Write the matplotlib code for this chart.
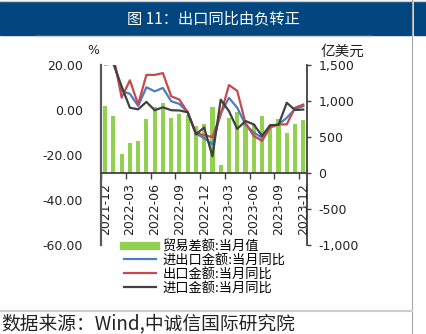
import numpy as np
import matplotlib
matplotlib.use('Agg')
import matplotlib.pyplot as plt
from matplotlib.lines import Line2D
from matplotlib.patches import Rectangle

cjk = ['Noto Sans CJK SC', 'DejaVu Sans']

# 2021-12 .. 2023-12, monthly
months = ['2021-12', '2022-01', '2022-02', '2022-03', '2022-04', '2022-05', '2022-06',
          '2022-07', '2022-08', '2022-09', '2022-10', '2022-11', '2022-12',
          '2023-01', '2023-02', '2023-03', '2023-04', '2023-05', '2023-06',
          '2023-07', '2023-08', '2023-09', '2023-10', '2023-11', '2023-12']
# trade balance, 100m USD (right axis)
balance = [924, 785, 257, 420, 451, 752, 914, 970, 767, 813, 808, 646, 683,
           910, 116, 770, 845, 683, 683, 785, 665, 748, 553, 678, 743]
# yoy, % (left axis)
total_yoy = [20.5, 22.0, 8.4, 7.2, 1.8, 10.1, 8.3, 9.8, 3.9, 2.7, -1.0, -10.5, -12.5,
             -15.3, -1.5, 5.4, 1.0, -6.5, -10.0, -12.3, -7.1, -6.4, -3.5, 0.5, 1.7]
export_yoy = [21.0, 24.0, 5.5, 13.2, 2.5, 15.6, 15.6, 16.4, 6.1, 4.6, -1.0, -10.2, -11.2,
              -12.0, -2.0, 11.1, 8.5, -5.8, -11.5, -13.7, -7.8, -6.4, -6.4, 1.0, 2.4]
import_yoy = [20.3, 20.6, 10.5, 1.0, 0.3, 3.6, -0.1, 1.2, -0.1, -0.2, -1.0, -10.8, -7.8,
              -20.6, 4.6, -0.5, -8.4, -4.9, -6.4, -11.5, -6.7, -6.6, 3.2, 0.0, 0.2]

names = ['贸易差额:当月值', '进出口金额:当月同比', '出口金额:当月同比', '进口金额:当月同比']
green, blue, red, dark = '#92D050', '#4A7EC0', '#C64A4C', '#404040'

W, H = 427, 334
fig = plt.figure(figsize=(W / 100, H / 100), dpi=100)

# header band
fig.patches.append(Rectangle((0, 1 - 35 / H), 411 / W, 33 / H, transform=fig.transFigure,
                             color='#02467F', zorder=0))
fig.patches.append(Rectangle((414 / W, 1 - 35 / H), 13 / W, 33 / H, transform=fig.transFigure,
                             color='#02467F', zorder=0))
fig.lines.append(Line2D([0, 1], [1 - 0.5 / H, 1 - 0.5 / H], transform=fig.transFigure,
                        color='#C8C8C8', lw=1))
fig.lines.append(Line2D([36 / W, 372 / W], [1 - 36 / H, 1 - 36 / H], transform=fig.transFigure,
                        color='#D0D0D0', lw=1))
fig.lines.append(Line2D([412.5 / W, 412.5 / W], [0, 1], transform=fig.transFigure,
                        color='#A6A6A6', lw=0.8))
fig.lines.append(Line2D([0, 412 / W], [1 - 311 / H, 1 - 311 / H], transform=fig.transFigure,
                        color='#CCCCCC', lw=1.5))
fig.text(213 / W, 1 - 19 / H, '图 11：出口同比由负转正', color='white', ha='center', va='center',
         fontsize=11, family=cjk)
fig.text(1 / W, 1 - 324 / H, '数据来源：Wind,中诚信国际研究院', color='#222222', ha='left',
         va='center', fontsize=13.5, family=cjk)

ax = fig.add_axes([101 / W, 1 - 245 / H, 206.4 / W, 180 / H])
ax2 = ax.twinx()
ax.set_zorder(ax2.get_zorder() + 1)
ax.patch.set_visible(False)

x = np.arange(len(months))
ax2.bar(x, balance, width=0.5, color=green, zorder=1)
ax.plot(x, total_yoy, color=blue, lw=1.6)
ax.plot(x, export_yoy, color=red, lw=1.6)
ax.plot(x, import_yoy, color=dark, lw=1.6)

ax.set_xlim(-0.5, len(months) - 0.5)
ax.set_ylim(-60, 20)
ax2.set_ylim(-1000, 1500)

ax.set_yticks([20, 0, -20, -40, -60])
ax.set_yticklabels(['20.00', '0.00', '-20.00', '-40.00', '-60.00'])
ax.tick_params(axis='y', length=0, pad=13, labelsize=9, labelcolor='#222222')
ax2.set_yticks([1500, 1000, 500, 0, -500, -1000])
ax2.set_yticklabels(['1,500', '1,000', '500', '0', '-500', '-1,000'])
ax2.tick_params(axis='y', length=3, width=1, color=dark, pad=5, labelsize=9,
                labelcolor='#222222')

# category axis sits on the balance zero line
ax.spines['bottom'].set_position(('data', -28))
ax.set_xticks(x[::3])
ax.set_xticklabels(months[::3], rotation=90)
ax.set_xticks(x[::3] - 0.5, minor=True)
ax.tick_params(axis='x', which='major', length=0, pad=7, labelsize=9, labelcolor='#222222')
ax.tick_params(axis='x', which='minor', length=4, width=1, color=dark)

for a in (ax, ax2):
    a.spines['top'].set_visible(False)
ax2.spines['bottom'].set_visible(False)
ax2.spines['left'].set_visible(False)
ax.spines['right'].set_visible(False)
ax.spines['left'].set_color('#595959')
ax.spines['left'].set_linewidth(1.6)
ax.spines['bottom'].set_color(dark)
ax.spines['bottom'].set_linewidth(1.3)
ax2.spines['right'].set_color(dark)
ax2.spines['right'].set_linewidth(1.3)

fig.text(93 / W, 1 - 50 / H, '%', ha='center', va='center', fontsize=9, color='#222222')
fig.text(342 / W, 1 - 52 / H, '亿美元', ha='center', va='center', fontsize=10.5, family=cjk,
         color='#222222')

handles = [Line2D([], [], color=green, lw=6),
           Line2D([], [], color=blue, lw=1.6),
           Line2D([], [], color=red, lw=1.6),
           Line2D([], [], color=dark, lw=1.6)]
leg = fig.legend(handles, names, loc='upper left', bbox_to_anchor=(119 / W, 1 - 235 / H),
                 frameon=False, prop={'family': cjk, 'size': 9.5}, handlelength=2.4,
                 handletextpad=0.5, labelspacing=0.05, borderaxespad=0)

fig.savefig('out.png', dpi=100)
